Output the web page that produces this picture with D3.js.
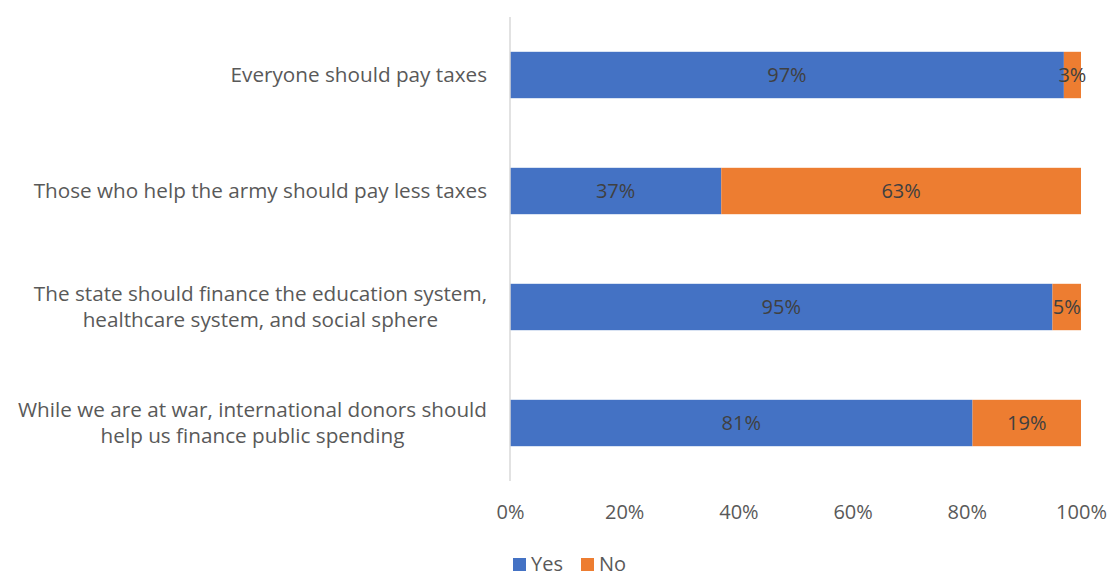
<!DOCTYPE html>
<html>
<head>
<meta charset="utf-8">
<script src="https://cdn.jsdelivr.net/npm/d3@7"></script>
<style>
  body { margin: 0; background: #fff; }
  svg { display: block; font-family: "Open Sans", "Lato", sans-serif; }
</style>
</head>
<body>
<svg id="chart" width="1109" height="573"></svg>
<script>
// Survey statements (two-line labels split with "\n")
const categories = [
  "Everyone should pay taxes",
  "Those who help the army should pay less taxes",
  "The state should finance the education system,\nhealthcare system, and social sphere",
  "While we are at war, international donors should\nhelp us finance public spending"
];
const yesValues = [97, 37, 95, 81];
const noValues = [3, 63, 5, 19];
const seriesNames = ["Yes", "No"];
const tickValues = [0, 20, 40, 60, 80, 100];

const colors = { Yes: "#4472C4", No: "#ED7D31" };
const textColor = "#595959";
const catFontSize = 20.7;
const fontSize = 20;

const svg = d3.select("#chart");
const plotLeft = 510, plotRight = 1081, plotTop = 17, plotBottom = 481;

const x = d3.scaleLinear().domain([0, 100]).range([plotLeft, plotRight]);
const y = d3.scaleBand().domain(categories).range([plotTop, plotBottom])
  .paddingInner(0.6).paddingOuter(0.3);

const rows = categories.map((c, i) => ({ cat: c, Yes: yesValues[i], No: noValues[i] }));
const stacked = d3.stack().keys(seriesNames)(rows);

// bars
const layers = svg.append("g").selectAll("g").data(stacked).join("g")
  .attr("fill", d => colors[d.key]);
layers.selectAll("rect").data(d => d).join("rect")
  .attr("x", d => x(d[0]))
  .attr("y", d => y(d.data.cat))
  .attr("width", d => x(d[1]) - x(d[0]))
  .attr("height", y.bandwidth());

// value labels
layers.each(function(layer) {
  d3.select(this).selectAll("text").data(layer).join("text")
    .attr("x", d => (x(d[0]) + x(d[1])) / 2)
    .attr("y", d => y(d.data.cat) + y.bandwidth() / 2)
    .attr("dy", "0.35em")
    .attr("text-anchor", "middle")
    .attr("fill", "#404040")
    .attr("font-size", fontSize)
    .text(d => (d[1] - d[0]) + "%");
});

// vertical category axis line
svg.append("line")
  .attr("x1", plotLeft).attr("x2", plotLeft)
  .attr("y1", plotTop).attr("y2", plotBottom)
  .attr("stroke", "#D9D9D9").attr("stroke-width", 1.5);

// category labels: lines centred on each other, block right-aligned to the axis
const catG = svg.append("g");
const labelRight = 487;
categories.forEach(c => {
  const lines = c.split("\n");
  const cy = y(c) + y.bandwidth() / 2;
  const t = catG.append("text")
    .attr("text-anchor", "middle")
    .attr("fill", textColor)
    .attr("font-size", catFontSize);
  const spans = lines.map((ln, i) => t.append("tspan")
    .attr("y", cy + (i - (lines.length - 1) / 2) * 26)
    .attr("dy", "0.35em")
    .text(ln));
  const maxW = d3.max(spans, s => s.node().getComputedTextLength());
  spans.forEach(s => s.attr("x", labelRight - maxW / 2));
});

// value axis
const xAxis = d3.axisBottom(x).tickValues(tickValues).tickFormat(d => d + "%").tickSize(0);
const ax = svg.append("g").attr("transform", `translate(0,${plotBottom + 21})`).call(xAxis);
ax.select(".domain").remove();
ax.selectAll("text")
  .attr("fill", textColor)
  .attr("font-size", fontSize)
  .attr("font-family", "'Open Sans', Lato, sans-serif");

// legend
const legend = svg.append("g").attr("transform", "translate(513,558)");
const legendX = [0, 68];
seriesNames.forEach((s, i) => {
  const g = legend.append("g").attr("transform", `translate(${legendX[i]},0)`);
  g.append("rect").attr("width", 13).attr("height", 13).attr("fill", colors[s]);
  g.append("text").attr("x", 18).attr("y", 13)
    .attr("fill", textColor).attr("font-size", fontSize).text(s);
});
</script>
</body>
</html>
